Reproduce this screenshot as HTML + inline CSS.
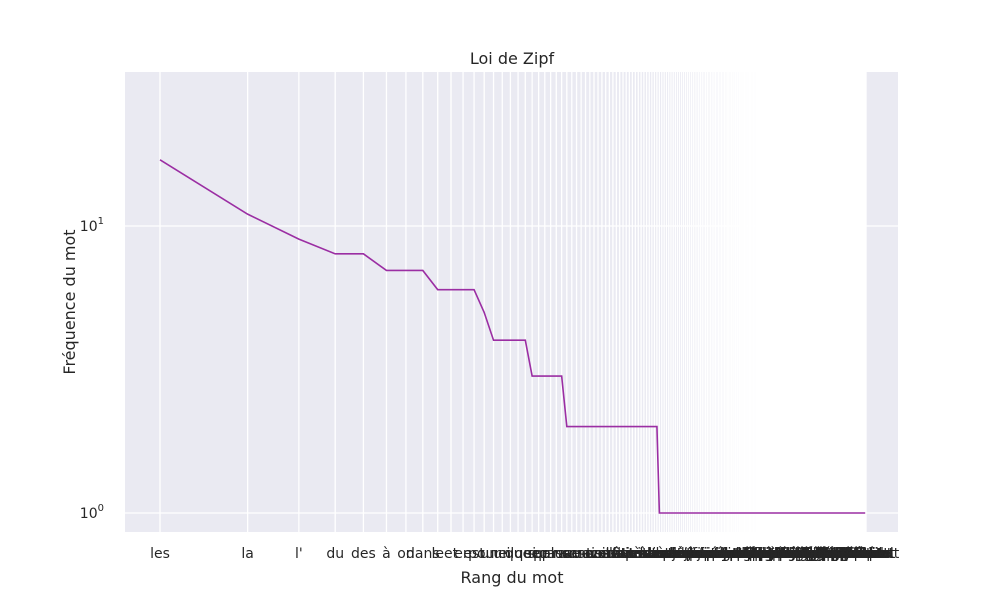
<!DOCTYPE html>
<html><head><meta charset="utf-8"><style>
body{margin:0;background:#fff;}
svg text{font-family:"DejaVu Sans","Liberation Sans",sans-serif;fill:#262626;}
</style></head><body>
<svg id="chart" width="1000" height="600" xmlns="http://www.w3.org/2000/svg">
<rect x="125" y="72" width="773" height="460" fill="#eaeaf2"/>
<g id="grid"></g>
<g id="xlabels"></g>
<path id="line" fill="none" stroke="#9b2ea3" stroke-width="1.6"/>
<text x="512" y="64" font-size="16" text-anchor="middle">Loi de Zipf</text>
<text x="512" y="583" font-size="16" text-anchor="middle">Rang du mot</text>
<text transform="translate(75,302) rotate(-90)" font-size="16" text-anchor="middle">Fréquence du mot</text>
<g id="yticks"></g>
</svg>
<script>
const words = ("les la l' du des à on dans le et en est pour une un il que qui se sur par pas plus ne au ce sont avec mais son sa ses nous vous ils elle comme tout fait être avoir bien très aussi peut cette même entre deux sans où donc leur leurs dont autre encore après avant alors ainsi déjà lors sous vers chez depuis toujours jamais rien moins trop peu beaucoup temps vie monde jour an années homme femme enfant pays ville travail langue mot mots texte phrase sens loi fréquence rang ordre liste nombre valeur forme partie cas exemple point question raison idée fin début moment place côté lieu état effet besoin façon manière chose choses part tous toutes faire dire voir savoir pouvoir vouloir venir prendre mettre donner parler trouver passer rester penser croire grand petit nouveau premier dernier long haut bon seul général simple certain propre important possible vrai public social politique humain naturel français commun livre auteur lecture écriture corpus analyse étude science données mesure courbe graphe échelle log distribution observation modèle théorie hypothèse résultat méthode calcul série total somme moyenne écart classe groupe type genre famille terme usage emploi rôle fonction structure système réseau lien relation rapport niveau degré taux part quart tiers moitié double simple chaque plusieurs quelques aucun nul tel telle tels telles lequel laquelle celui celle ceux celles ici là voici voilà oui non peut-être pourtant cependant toutefois néanmoins enfin puis ensuite souvent parfois vite lentement ensemble seulement surtout notamment environ presque tant assez guère plutôt quand comment pourquoi combien quoi lui eux moi toi soi même autres aucune nulle chacun chacune personne quiconque voilà zipf").split(" ");
const freqs = [17,11,9,8,8,7,7,7,6,6,6,6,5,4,4,4,4,4,3,3,3,3,3,3,
2,2,2,2,2,2,2,2,2,2,2,2,2,2,2,2,2,2,2,2,2,2,2,2,2,2,2,
1,1,1,1,1,1,1,1,1,1,1,1,1,1,1,1,1,1,1,1,1,1,1,1,1,1,1,1,1,1,1,1,1,1,1,1,1,1,1,1,1,1,1,1,1,1,1,1,1,1,
1,1,1,1,1,1,1,1,1,1,1,1,1,1,1,1,1,1,1,1,1,1,1,1,1,1,1,1,1,1,1,1,1,1,1,1,1,1,1,1,1,1,1,1,1,1,1,1,1,1,
1,1,1,1,1,1,1,1,1,1,1,1,1,1,1,1,1,1,1,1,1,1,1,1,1,1,1,1,1,1,1,1,1,1,1,1,1,1,1,1,1,1,1,1,1,1,1,1,1,1,
1,1,1,1,1,1,1,1,1,1,1,1,1,1,1,1,1,1,1,1,1,1,1,1,1,1,1,1,1,1,1,1,1,1,1,1,1,1,1,1,1,1,1,1,1,1,1,1,1,1,
1,1,1,1,1,1,1,1,1,1,1,1,1,1];
const yTickVals = [1, 10];
const yTickLabels = ["0", "1"];

const NS = "http://www.w3.org/2000/svg";
const N = freqs.length;
const xMinLog = -0.1203, xMaxLog = 2.536;
function xs(rank){ return 125 + (Math.log10(rank) - xMinLog) / (xMaxLog - xMinLog) * 773; }
function ys(v){ return 513 - Math.log10(v) * 287; }

const grid = document.getElementById("grid");
const xl = document.getElementById("xlabels");
for (let i = 0; i < N; i++) {
  const x = xs(i + 1);
  const l = document.createElementNS(NS, "line");
  l.setAttribute("x1", x); l.setAttribute("x2", x); l.setAttribute("y1", 72); l.setAttribute("y2", 532);
  l.setAttribute("stroke", "#fff"); l.setAttribute("stroke-width", i < 115 ? 1.3 : 3);
  
  
  grid.appendChild(l);
  const t = document.createElementNS(NS, "text");
  t.setAttribute("x", x); t.setAttribute("y", 558); t.setAttribute("font-size", "14"); t.setAttribute("text-anchor", "middle");
  t.textContent = words[i % words.length];
  
  
  xl.appendChild(t);
}
const yt = document.getElementById("yticks");
yTickVals.forEach((v, k) => {
  const y = ys(v);
  const l = document.createElementNS(NS, "line");
  l.setAttribute("x1", 125); l.setAttribute("x2", 898); l.setAttribute("y1", y); l.setAttribute("y2", y);
  l.setAttribute("stroke", "#fff"); l.setAttribute("stroke-width", 1.2);
  
  
  grid.appendChild(l);
  const t = document.createElementNS(NS, "text");
  t.setAttribute("x", 104); t.setAttribute("y", y + 5); t.setAttribute("font-size", "14"); t.setAttribute("text-anchor", "end");
  t.innerHTML = '10<tspan dy="-7" font-size="10">' + yTickLabels[k] + '</tspan>';
  
  
  yt.appendChild(t);
});
let d = "";
freqs.forEach((f, i) => { d += (i ? "L" : "M") + xs(i + 1).toFixed(2) + "," + ys(f).toFixed(2); });
document.getElementById("line").setAttribute("d", d);
</script>
</body></html>
